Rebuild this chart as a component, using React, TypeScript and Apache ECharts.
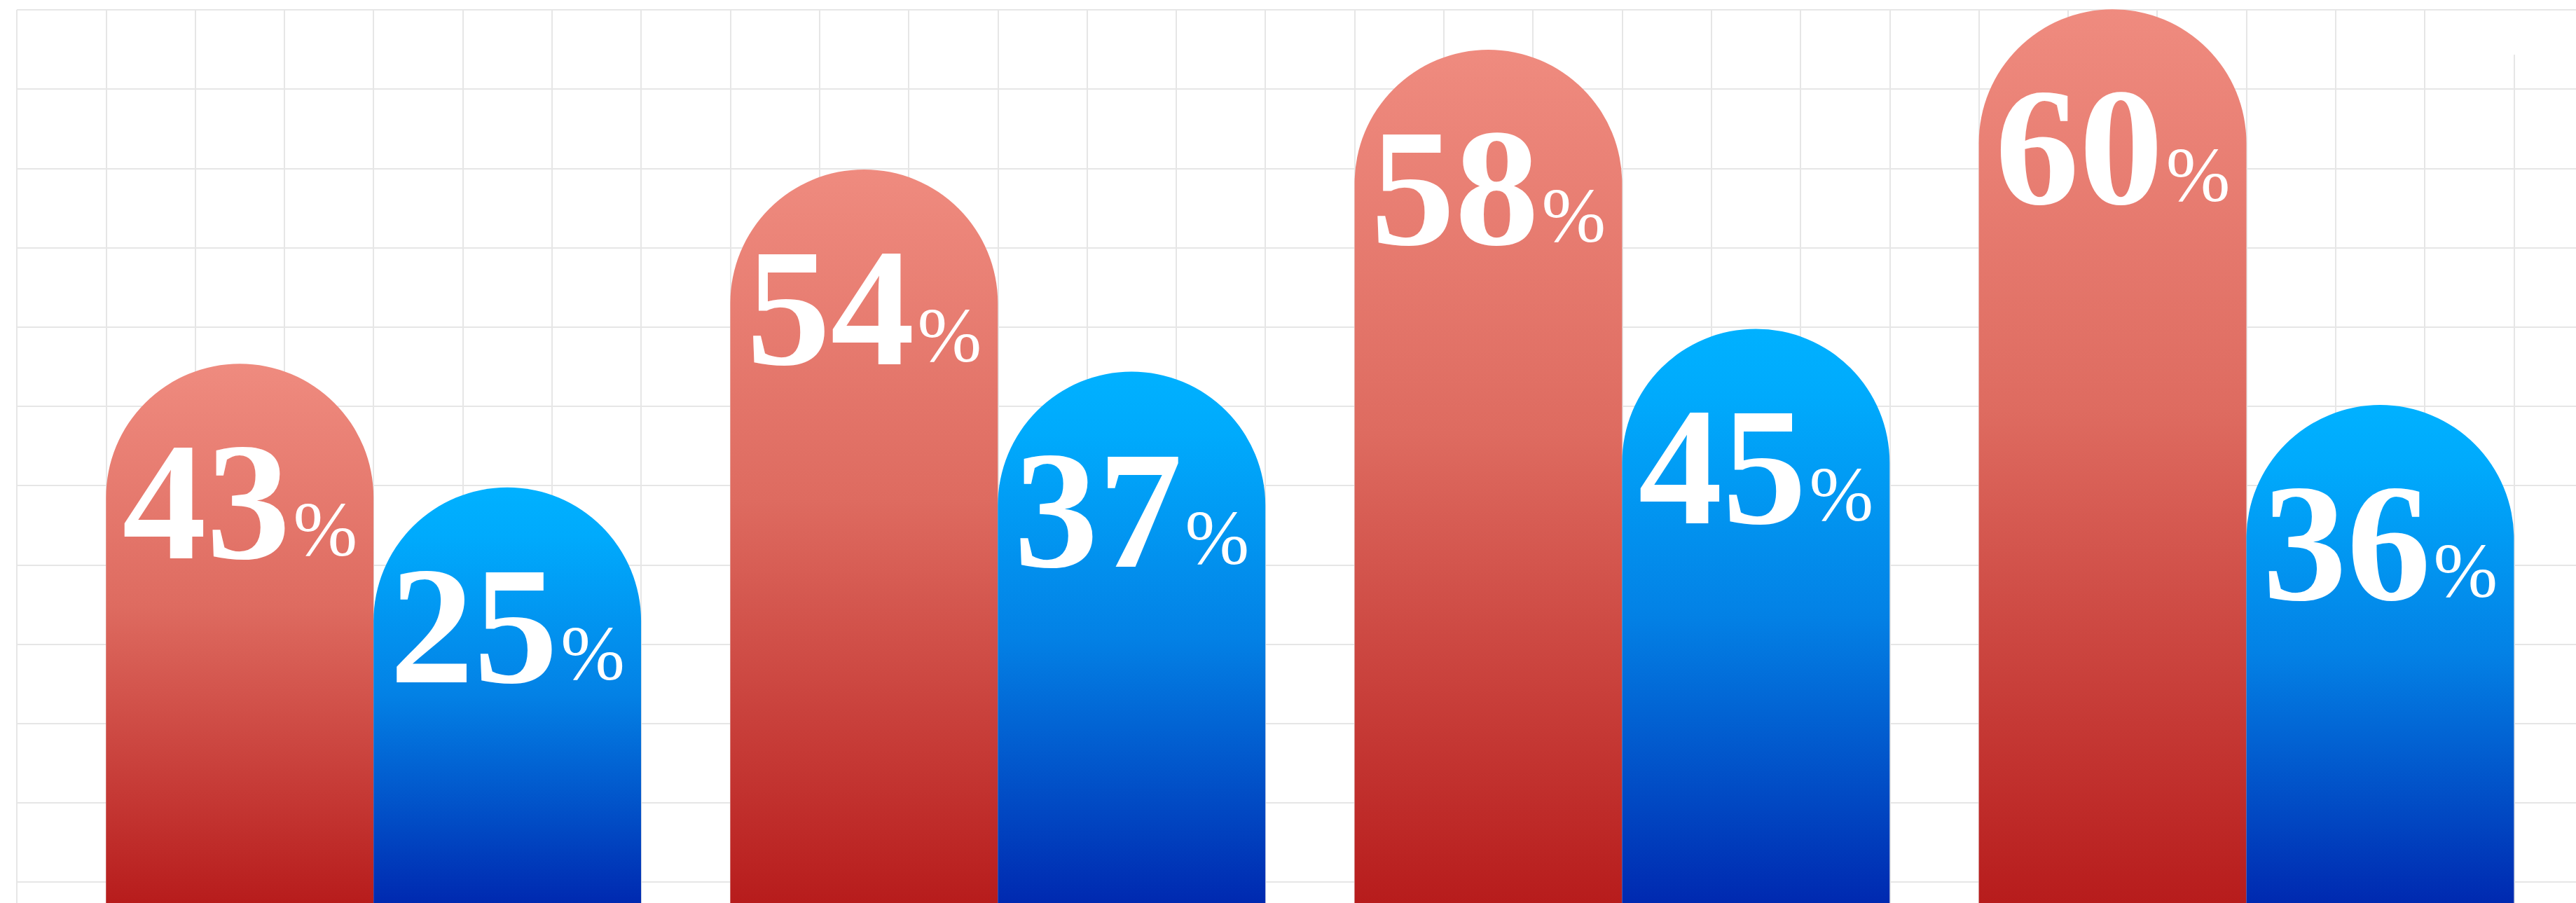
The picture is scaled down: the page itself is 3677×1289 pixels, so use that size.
import React, { useEffect, useRef } from "react";
import * as echarts from "echarts";

// ---- data ----
const categories = ["A", "B", "C", "D"];
const redShare = [43, 54, 58, 60];
const blueShare = [25, 37, 45, 36];
// bar heights, measured in background-grid rows
const redHeight = [6.8, 9.25, 10.76, 11.27];
const blueHeight = [5.24, 6.7, 7.24, 6.28];

// ---- layout ----
const W = 3677;
const H = 1289;
const CELL_W = 127.3;
const CELL_H = 113.2;
const G_LEFT = 24;
const G_TOP = 14;
const COLSN = 28;
const LINE = "#e6e6e6";
const SERIF = "'Liberation Serif', 'Times New Roman', Times, serif";

const redGrad = new echarts.graphic.LinearGradient(0, 0, 0, 1, [
  { offset: 0, color: "#EF8B7F" },
  { offset: 0.45, color: "#DE6B60" },
  { offset: 1, color: "#B71C1C" },
]);
const blueGrad = new echarts.graphic.LinearGradient(0, 0, 0, 1, [
  { offset: 0, color: "#00B1FF" },
  { offset: 0.12, color: "#00AAFC" },
  { offset: 0.5, color: "#0381E5" },
  { offset: 1, color: "#0029B0" },
]);

const BIG = 240;
const SMALL = 110;
const LB = 240;

const mkLabel = (shares: number[]) => ({
  show: true,
  position: "insideTop",
  distance: 77,
  formatter: (p: any) => `{n|${shares[p.dataIndex]}}{p|%}`,
  rich: {
    n: {
      fontFamily: SERIF,
      fontWeight: "bold",
      fontSize: BIG,
      lineHeight: LB,
      color: "#ffffff",
      verticalAlign: "bottom",
    },
    p: {
      fontFamily: SERIF,
      fontWeight: "normal",
      fontSize: SMALL,
      color: "#ffffff",
      verticalAlign: "bottom",
      padding: [0, 0, 25, 4],
    },
  },
});

export default function App() {
  const ref = useRef<HTMLDivElement>(null);
  useEffect(() => {
    document.body.style.margin = "0";
    document.body.style.overflow = "hidden";
    if (!ref.current) return;
    const chart = echarts.init(ref.current, null, { renderer: "svg" });
    const rows = (H - G_TOP) / CELL_H;
    const colsTotal = (W - G_LEFT) / CELL_W;
    const bandLeft = G_LEFT + 0.5 * CELL_W;
    const bandRight = W - (G_LEFT + (COLSN + 0.5) * CELL_W);
    chart.setOption({
      animation: false,
      backgroundColor: "#ffffff",
      grid: [
        { left: G_LEFT, right: 0, top: G_TOP, bottom: 0 },
        { left: G_LEFT, width: (COLSN - 1) * CELL_W, top: G_TOP, bottom: 0 },
        { left: bandLeft, right: bandRight, top: 0, bottom: 0 },
      ],
      xAxis: [
        {
          gridIndex: 0,
          type: "value",
          min: 0,
          max: colsTotal,
          axisLine: { show: false },
          axisTick: { show: false },
          axisLabel: { show: false },
          splitLine: { show: false },
        },
        {
          gridIndex: 1,
          type: "value",
          min: 0,
          max: COLSN - 1,
          interval: 1,
          axisLine: { show: false },
          axisTick: { show: false },
          axisLabel: { show: false },
          splitLine: { show: true, lineStyle: { color: LINE, width: 2 } },
        },
        {
          gridIndex: 2,
          type: "category",
          data: categories,
          axisLine: { show: false },
          axisTick: { show: false },
          axisLabel: { show: false },
          splitLine: { show: false },
        },
      ],
      yAxis: [
        {
          gridIndex: 0,
          type: "value",
          inverse: true,
          min: 0,
          max: rows,
          interval: 1,
          axisLine: { show: false },
          axisTick: { show: false },
          axisLabel: { show: false },
          splitLine: { show: true, showMaxLine: false, lineStyle: { color: LINE, width: 2 } },
        },
        {
          gridIndex: 1,
          type: "value",
          min: 0,
          max: 1,
          show: false,
          splitLine: { show: false },
        },
        {
          gridIndex: 2,
          type: "value",
          min: 0,
          max: H / CELL_H,
          show: false,
          splitLine: { show: false },
        },
      ],
      series: [
        {
          type: "lines",
          coordinateSystem: "cartesian2d",
          xAxisIndex: 0,
          yAxisIndex: 0,
          z: 1,
          silent: true,
          lineStyle: { color: LINE, width: 2, opacity: 1 },
          data: [{ coords: [[COLSN, 0.565], [COLSN, rows]] }],
        },
        {
          type: "bar",
          name: "red",
          xAxisIndex: 2,
          yAxisIndex: 2,
          data: redHeight,
          barWidth: 3 * CELL_W,
          barGap: "0%",
          z: 3,
          itemStyle: { color: redGrad, borderRadius: [191, 191, 0, 0] },
          label: mkLabel(redShare),
        },
        {
          type: "bar",
          name: "blue",
          xAxisIndex: 2,
          yAxisIndex: 2,
          data: blueHeight,
          barWidth: 3 * CELL_W,
          barGap: "0%",
          z: 3,
          itemStyle: { color: blueGrad, borderRadius: [191, 191, 0, 0] },
          label: mkLabel(blueShare),
        },
      ],
    });
    return () => chart.dispose();
  }, []);
  return <div ref={ref} style={{ width: W, height: H }} />;
}
